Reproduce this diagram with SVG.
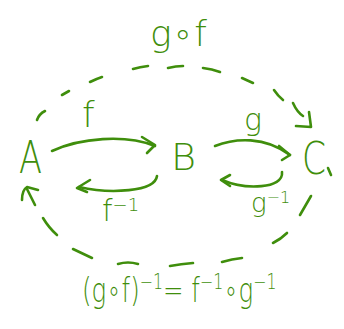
<svg xmlns="http://www.w3.org/2000/svg" width="344" height="329" viewBox="0 0 344 329">
<style>
.s{fill:none;stroke:#3f8e0c;stroke-width:2.6;stroke-linecap:round;stroke-linejoin:round}
.t{fill:#3f8e0c;font-family:"DejaVu Sans","Liberation Sans",sans-serif;font-weight:300}
</style>
<rect width="344" height="329" fill="#ffffff"/>
<g id="connectors">
  <g id="AtoB"><path class="s" d="M52,151 C80,138 125,134 155,146"/><path class="s" d="M142,137 L155,145 L147,153"/></g>
  <g id="BtoC"><path class="s" d="M215,146 C235,138 265,136 290,155"/><path class="s" d="M279,146 L290,155 L282,160"/></g>
  <g id="BtoA"><path class="s" d="M157,176 C155,192 110,194 79,187"/><path class="s" d="M90,180 L77,188 L87,192"/></g>
  <g id="CtoB"><path class="s" d="M282,172 C284,189 245,190 222,180"/><path class="s" d="M230,175 L221,180 L230,186"/></g>
  <g id="AtoC">
    <path class="s" d="M37,120 Q39,114 45,111"/>
    <path class="s" d="M62,95 L69,91"/>
    <path class="s" d="M90,82 Q96,79 102,77"/>
    <path class="s" d="M133,69 Q140,67 148,66"/>
    <path class="s" d="M168,68 Q176,66 183,66"/>
    <path class="s" d="M203,68 Q212,69 220,72"/>
    <path class="s" d="M242,78 L253,83"/>
    <path class="s" d="M274,90 Q278,96 283,100"/>
    <path class="s" d="M293,103 Q297,112 303,116"/>
    <path class="s" d="M309,112 L311,127 L296,126"/>
  </g>
  <g id="CtoA">
    <path class="s" d="M300,215 L311,196"/>
    <path class="s" d="M273,243 Q281,239 287,233"/>
    <path class="s" d="M222,262 Q232,259 242,258"/>
    <path class="s" d="M170,266 Q181,264 193,263"/>
    <path class="s" d="M118,264 Q128,261 138,264"/>
    <path class="s" d="M73,249 L92,258"/>
    <path class="s" d="M43,218 Q49,228 57,235"/>
    <path class="s" d="M35,205 L27,189"/>
    <path class="s" d="M22,200 Q22,190 27,187 L38,190"/>
  </g>
</g>
<g id="A"><text class="t" x="19" y="173" font-size="44" textLength="23" lengthAdjust="spacingAndGlyphs">A</text></g>
<g id="B"><text class="t" x="171" y="170" font-size="38" textLength="25" lengthAdjust="spacingAndGlyphs">B</text></g>
<g id="C"><text class="t" x="302" y="174" font-size="44" textLength="24" lengthAdjust="spacingAndGlyphs">C</text><path class="s" d="M328,168 L331,175"/></g>
<g id="label-f"><text class="t" x="82" y="127" font-size="36">f</text></g>
<g id="label-g"><text class="t" x="244" y="130" font-size="30">g</text></g>
<g id="label-gf"><text class="t" x="150" y="46" font-size="36">g∘f</text></g>
<g id="label-finv"><text class="t" x="102" y="221" font-size="30">f<tspan font-size="18" dy="-10">−1</tspan></text></g>
<g id="label-ginv"><text class="t" x="251" y="212" font-size="26">g<tspan font-size="16" dy="-9">−1</tspan></text></g>
<g id="label-inverse"><text class="t" transform="translate(82,302) scale(0.72,1)" x="0" y="0" font-size="34">(g∘f)<tspan font-size="22" dy="-13">−1</tspan><tspan dy="13">= f</tspan><tspan font-size="22" dy="-13">−1</tspan><tspan dy="13">∘g</tspan><tspan font-size="22" dy="-13">−1</tspan></text></g>
</svg>
